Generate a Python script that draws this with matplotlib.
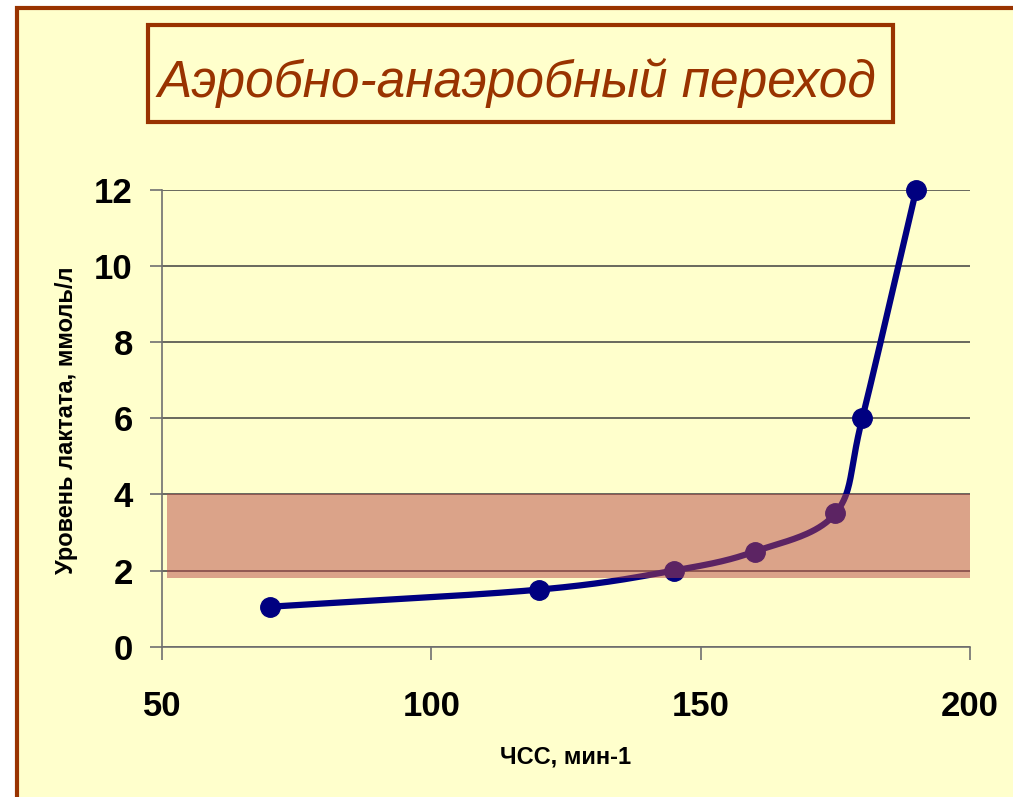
import numpy as np
import matplotlib
matplotlib.use("Agg")
import matplotlib.pyplot as plt
from matplotlib.patches import Rectangle

# Heart rate (bpm) vs blood lactate (mmol/l)
heart_rate = [70, 120, 145, 160, 175, 180, 190]
lactate = [1.05, 1.5, 2.0, 2.5, 3.5, 6.0, 12.0]

# Transition zone band
zone_low, zone_high = 1.8, 4.0
zone_x = (51, 200)

x_ticks = [50, 100, 150, 200]
y_ticks = [0, 2, 4, 6, 8, 10, 12]

title = "Аэробно-анаэробный переход"
x_label = "ЧСС, мин-1"
y_label = "Уровень лактата, ммоль/л"

BG = "#FFFFCC"
BROWN = "#993300"
NAVY = "#000080"


def catmull_rom(xs, ys, n=40):
    """Smoothed path through the points (uniform Catmull-Rom)."""
    p = np.column_stack([xs, ys]).astype(float)
    p = np.vstack([2 * p[0] - p[1], p, 2 * p[-1] - p[-2]])
    out = []
    t = np.linspace(0, 1, n, endpoint=False)[:, None]
    for i in range(1, len(p) - 2):
        p0, p1, p2, p3 = p[i - 1], p[i], p[i + 1], p[i + 2]
        seg = 0.5 * ((2 * p1) + (-p0 + p2) * t + (2 * p0 - 5 * p1 + 4 * p2 - p3) * t ** 2
                     + (-p0 + 3 * p1 - 3 * p2 + p3) * t ** 3)
        out.append(seg)
    out.append(p[-2][None, :])
    out = np.vstack(out)
    return out[:, 0], out[:, 1]


plt.rcParams["font.family"] = ["Liberation Sans", "DejaVu Sans"]

W, H = 1013, 797
fig = plt.figure(figsize=(W / 100, H / 100), dpi=100, facecolor="white")

# outer frame
fig.patches.append(Rectangle((17 / W, -0.05), 1.2, 1 - 8 / H + 0.05,
                             transform=fig.transFigure, facecolor=BG,
                             edgecolor=BROWN, linewidth=3, zorder=-10))

# title box
fig.patches.append(Rectangle((148 / W, 1 - 122 / H), (893 - 148) / W, (122 - 25) / H,
                             transform=fig.transFigure, facecolor="none",
                             edgecolor=BROWN, linewidth=3, zorder=1))
fig.text(517 / W, 1 - 97 / H, title, ha="center", va="baseline",
         fontsize=37, style="italic", color=BROWN)

ax = fig.add_axes([162 / W, 1 - 646.7 / H, (970 - 162) / W, (646.7 - 190) / H])
ax.set_facecolor("none")
ax.set_xlim(50, 200)
ax.set_ylim(0, 12)

for s in ("top", "right"):
    ax.spines[s].set_visible(False)
for s in ("left", "bottom"):
    ax.spines[s].set_color("#707070")
    ax.spines[s].set_linewidth(1.2)

ax.set_xticks(x_ticks)
ax.set_yticks(y_ticks)
ax.tick_params(axis="both", direction="out", length=9, width=1.2, color="#707070",
               labelsize=25)
ax.tick_params(axis="x", pad=22)
ax.tick_params(axis="y", pad=12)
for lab in ax.get_xticklabels() + ax.get_yticklabels():
    lab.set_fontweight("bold")

ax.yaxis.grid(True, color="#404040", linewidth=1.1)
ax.set_axisbelow(True)

sx, sy = catmull_rom(heart_rate, lactate)
ax.plot(sx, sy, color=NAVY, linewidth=4.5, solid_capstyle="round", zorder=3,
        clip_on=False)
ax.plot(heart_rate, lactate, linestyle="none", marker="o", markersize=14,
        color=NAVY, zorder=4, clip_on=False)

ax.add_patch(Rectangle((zone_x[0], zone_low), zone_x[1] - zone_x[0], zone_high - zone_low,
                       facecolor="#B84948", alpha=0.5, edgecolor="none", zorder=5))

fig.text(566 / W, 1 - 757 / H, x_label, ha="center", va="center",
         fontsize=17, fontweight="bold")
fig.text(67 / W, 1 - 420 / H, y_label, ha="center", va="center", rotation=90,
         fontsize=17, fontweight="bold")

fig.savefig("out.png", dpi=100, facecolor=fig.get_facecolor())
